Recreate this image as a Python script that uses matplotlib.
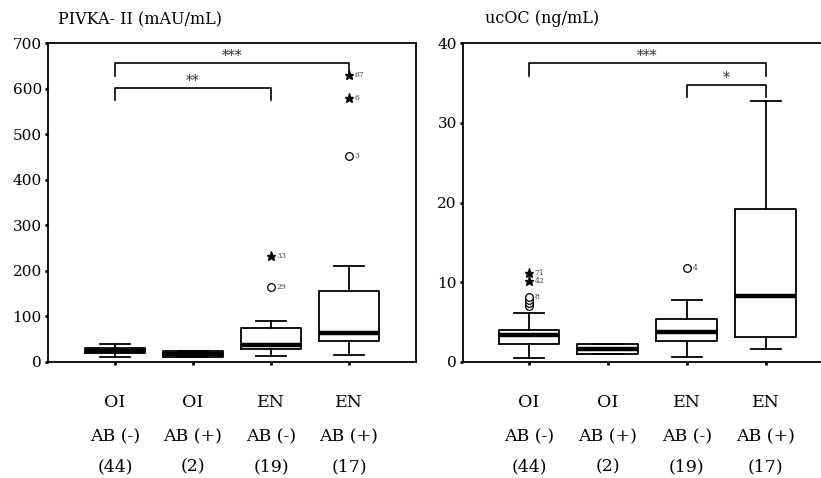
import matplotlib
matplotlib.use('Agg')
import matplotlib.pyplot as plt

plt.rcParams['font.family'] = ['DejaVu Serif']

# group labels (3 lines under each box)
grp_line1 = ['OI', 'OI', 'EN', 'EN']
grp_line2 = ['AB (-)', 'AB (+)', 'AB (-)', 'AB (+)']
grp_line3 = ['(44)', '(2)', '(19)', '(17)']

# PIVKA-II box stats
piv_whislo = [10, 12, 14, 15]
piv_q1 = [19, 12, 29, 47]
piv_med = [25, 18, 38, 63]
piv_q3 = [30, 25, 74, 156]
piv_whishi = [39, 25, 90, 210]
# outliers: group index, value, kind, case label
piv_out_grp = [2, 2, 3, 3, 3]
piv_out_val = [165, 232, 452, 580, 629]
piv_out_kind = ['o', '*', 'o', '*', '*']
piv_out_lab = ['29', '33', '3', '6', '67']

# ucOC box stats
uc_whislo = [0.45, 0.97, 0.67, 1.6]
uc_q1 = [2.2, 0.97, 2.6, 3.1]
uc_med = [3.4, 1.6, 3.8, 8.3]
uc_q3 = [4.0, 2.26, 5.4, 19.2]
uc_whishi = [6.2, 2.26, 7.8, 32.7]
uc_out_grp = [0, 0, 0, 0, 0, 0, 2]
uc_out_val = [7.0, 7.4, 7.8, 8.2, 10.2, 11.2, 11.8]
uc_out_kind = ['o', 'o', 'o', 'o', '*', '*', 'o']
uc_out_lab = ['', '', '', '8', '42', '71', '4']

# significance brackets: (from group, to group), bar height, leg bottom, text
piv_br_pair = [(0, 3), (0, 2)]
piv_br_y = [656, 601]
piv_br_leg = [627, 575]
piv_br_txt = ['***', '**']
uc_br_pair = [(0, 3), (2, 3)]
uc_br_y = [37.5, 34.7]
uc_br_leg = [35.9, 33.2]
uc_br_txt = ['***', '*']


def draw_panel(ax, whislo, q1, med, q3, whishi, out_grp, out_val, out_kind,
               out_lab, br_pair, br_y, br_leg, br_txt, ymax, yticks, xlim):
    stats = []
    for i in range(len(med)):
        stats.append(dict(whislo=whislo[i], q1=q1[i], med=med[i], q3=q3[i],
                          whishi=whishi[i], fliers=[]))
    pos = [1, 2, 3, 4]
    ax.bxp(stats, positions=pos, widths=0.77, showfliers=False,
           boxprops=dict(color='black', lw=1.3),
           whiskerprops=dict(color='black', lw=1.3),
           capprops=dict(color='black', lw=1.3),
           medianprops=dict(color='black', lw=3.2, solid_capstyle='butt'))
    for g, v, k, lab in zip(out_grp, out_val, out_kind, out_lab):
        if k == 'o':
            ax.plot(pos[g], v, 'o', mfc='white', mec='black', ms=5.5, mew=0.9)
        else:
            ax.plot(pos[g], v, '*', color='black', ms=6.5)
        if lab:
            ax.text(pos[g] + 0.07, v, lab, fontsize=5.5, va='center',
                    ha='left', color='#444444')
    for (a, b), y, leg, t in zip(br_pair, br_y, br_leg, br_txt):
        ax.plot([pos[a], pos[a], pos[b], pos[b]], [leg, y, y, leg],
                color='black', lw=1.2)
        ax.text((pos[a] + pos[b]) / 2, y, t, ha='center',
                va='bottom', fontsize=10, color='#333333')
    ax.set_ylim(0, ymax)
    ax.set_xlim(*xlim)
    ax.set_yticks(yticks)
    ax.set_xticks(pos)
    ax.set_xticklabels([])
    ax.tick_params(axis='both', length=2.5, width=2, direction='out',
                   labelsize=11, pad=2)
    for s in ax.spines.values():
        s.set_linewidth(1.3)
    tr = ax.get_xaxis_transform()
    for i in range(4):
        ax.text(pos[i], -0.1285, grp_line1[i], transform=tr, ha='center',
                va='center', fontsize=12.5)
        ax.text(pos[i], -0.235, grp_line2[i], transform=tr, ha='center',
                va='center', fontsize=12.5)
        ax.text(pos[i], -0.33, grp_line3[i], transform=tr, ha='center',
                va='center', fontsize=12.5)


fig = plt.figure(figsize=(8.21, 4.78), dpi=100)
ax1 = fig.add_axes([0.0585, 0.2427, 0.4482, 0.6673])
ax2 = fig.add_axes([0.564, 0.2427, 0.436, 0.6673])

draw_panel(ax1, piv_whislo, piv_q1, piv_med, piv_q3, piv_whishi,
           piv_out_grp, piv_out_val, piv_out_kind, piv_out_lab,
           piv_br_pair, piv_br_y, piv_br_leg, piv_br_txt,
           700, [0, 100, 200, 300, 400, 500, 600, 700], (0.14, 4.86))
draw_panel(ax2, uc_whislo, uc_q1, uc_med, uc_q3, uc_whishi,
           uc_out_grp, uc_out_val, uc_out_kind, uc_out_lab,
           uc_br_pair, uc_br_y, uc_br_leg, uc_br_txt,
           40, [0, 10, 20, 30, 40], (0.165, 4.70))
ax2.spines['right'].set_visible(False)

fig.text(0.0706, 0.958, 'PIVKA- II (mAU/mL)', fontsize=11.5, va='center')
fig.text(0.591, 0.962, 'ucOC (ng/mL)', fontsize=11.5, va='center')

fig.savefig('out.png', dpi=100)
